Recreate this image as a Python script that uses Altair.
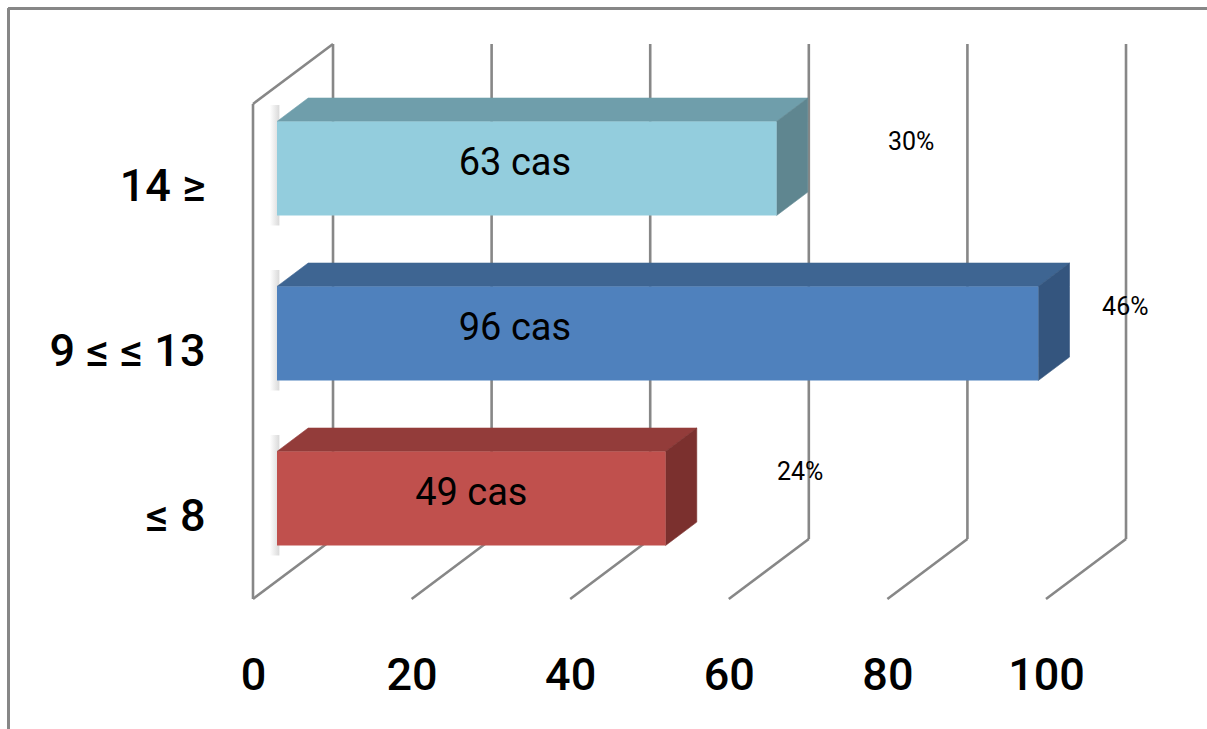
import altair as alt
import pandas as pd

# ---- data ----
categories = ["≤ 8", "9 ≤ ≤ 13", "14 ≥"]
cases = [49, 96, 63]
case_labels = ["49 cas", "96 cas", "63 cas"]
percents = ["24%", "46%", "30%"]
front_colors = ["#C0504D", "#4F81BD", "#93CDDD"]
top_colors = ["#933C3A", "#3E6592", "#6F9EAB"]
side_colors = ["#7B302E", "#34557E", "#5F8690"]
x_ticks = [0, 20, 40, 60, 80, 100]

# ---- 3D geometry (in scale units) ----
DX, DY = 10.09, 0.364   # full depth of the 3D box
F0, F1 = 0.30, 0.69     # depth span occupied by the bars
H = 0.57                # bar thickness
NCAT = len(categories)
GRAY = "#878787"
FONT = "Roboto"

ddx, ddy = (F1 - F0) * DX, (F1 - F0) * DY

front_rows, top_rows, side_rows, label_rows, shadow_rows = [], [], [], [], []
for i, v in enumerate(cases):
    c = i + 0.5
    yb = c - H / 2 + F0 * DY
    yt = c + H / 2 + F0 * DY
    x0 = F0 * DX
    xr = v + F0 * DX
    front_rows.append(dict(cat=categories[i], x=x0, x2=xr, y=yb, y2=yt, col=front_colors[i]))
    shadow_rows.append(dict(cat=categories[i], x=x0 - 0.9, x2=x0 + 0.3, y=yb - 0.06, y2=yt + 0.1))
    for (px, py, py2) in [(x0, yt, yt), (x0 + ddx, yt, yt + ddy),
                          (xr, yt, yt + ddy), (xr + ddx, yt + ddy, yt + ddy)]:
        top_rows.append(dict(cat=categories[i], x=px, y=py, y2=py2, col=top_colors[i]))
    for (py, px, px2) in [(yb, xr, xr), (yb + ddy, xr, xr + ddx),
                          (yt, xr, xr + ddx), (yt + ddy, xr + ddx, xr + ddx)]:
        side_rows.append(dict(cat=categories[i], y=py, x=px, x2=px2, col=side_colors[i]))
    label_rows.append(dict(cat=categories[i], v=v, c=c, lab=case_labels[i], pct=percents[i]))

front_df = pd.DataFrame(front_rows)
top_df = pd.DataFrame(top_rows)
side_df = pd.DataFrame(side_rows)
label_df = pd.DataFrame(label_rows)
shadow_df = pd.DataFrame(shadow_rows)

grid_df = pd.DataFrame({"t": x_ticks})
grid_df["tb"] = grid_df["t"] + DX
grid_df["z"] = 0.0
grid_df["dy"] = DY
grid_df["dy2"] = NCAT + DY
wall_df = pd.DataFrame([
    dict(x=0, x2=0, y=0, y2=NCAT),
    dict(x=0, x2=DX, y=NCAT, y2=NCAT + DY),
])

xscale = alt.Scale(domain=[0, 100], nice=False, zero=False)
yscale = alt.Scale(domain=[0, NCAT], nice=False, zero=False)

label_expr = " : ".join(
    f"datum.value < {i + 1} ? '{categories[i]}'" for i in range(NCAT - 1)
) + f" : '{categories[-1]}'"

x_axis = alt.Axis(values=x_ticks, labelFontSize=45, labelFont=FONT, labelFontWeight=500,
                  labelColor="black", domain=False, ticks=False, tickSize=0, grid=False,
                  labelPadding=90, labelBaseline="alphabetic", labelFlush=False,
                  labelOverlap=False, title=None)
y_axis = alt.Axis(values=[i + 0.5 for i in range(NCAT)], labelExpr=label_expr,
                  labelFontSize=45, labelFont=FONT, labelFontWeight=500, labelColor="black",
                  domain=False, ticks=False, tickSize=0, grid=False, labelPadding=48,
                  labelBaseline="middle", labelAlign="right", labelOverlap=False,
                  title=None)


def X(field, **kw):
    return alt.X(field, scale=xscale, axis=x_axis, **kw)


def Y(field, **kw):
    return alt.Y(field, scale=yscale, axis=y_axis, **kw)


back_lines = alt.Chart(grid_df).mark_rule(color=GRAY, strokeWidth=2.6).encode(
    x=X("tb:Q"), y=Y("dy:Q"), y2="dy2:Q",
)

floor_lines = alt.Chart(grid_df).mark_rule(color=GRAY, strokeWidth=2.6).encode(
    x=X("t:Q"), x2="tb:Q", y=Y("z:Q"), y2="dy:Q",
)

wall_lines = alt.Chart(wall_df).mark_rule(color=GRAY, strokeWidth=2.6).encode(
    x=X("x:Q"), x2="x2:Q", y=Y("y:Q"), y2="y2:Q",
)

shadow = alt.Chart(shadow_df).mark_rect(
    color=alt.Gradient(gradient="linear",
                       stops=[alt.GradientStop(color="#ffffff", offset=0),
                              alt.GradientStop(color="#d9d9d9", offset=1)],
                       x1=0, x2=1, y1=0, y2=0),
).encode(
    x=X("x:Q"), x2="x2:Q", y=Y("y:Q"), y2="y2:Q",
)

top_faces = alt.Chart(top_df).mark_area(orient="vertical", strokeWidth=0.6).encode(
    x=X("x:Q"),
    y=Y("y:Q", stack=None),
    y2="y2:Q",
    color=alt.Color("col:N", scale=None),
    stroke=alt.Stroke("col:N", scale=None),
    detail="cat:N",
)

side_faces = alt.Chart(side_df).mark_area(orient="horizontal", strokeWidth=0.6).encode(
    y=Y("y:Q"),
    x=X("x:Q", stack=None),
    x2="x2:Q",
    color=alt.Color("col:N", scale=None),
    stroke=alt.Stroke("col:N", scale=None),
    detail="cat:N",
)

front_faces = alt.Chart(front_df).mark_rect().encode(
    x=X("x:Q"), x2="x2:Q", y=Y("y:Q"), y2="y2:Q",
    color=alt.Color("col:N", scale=None),
)

case_text = alt.Chart(label_df).mark_text(
    font=FONT, fontSize=38, color="black", align="center", baseline="middle"
).encode(
    x=X("lx:Q"), y=Y("ly:Q"), text="lab:N",
).transform_calculate(
    lx=f"min(datum.v / 2, 30) + {F0 * DX}",
    ly=f"datum.c + {F0 * DY} + 0.03",
)

pct_text = alt.Chart(label_df).mark_text(
    font=FONT, fontSize=25, color="black", align="center", baseline="middle"
).encode(
    x=X("px:Q"), y=Y("py:Q"), text="pct:N",
).transform_calculate(
    px="min(datum.v + 20, 110)",
    py="datum.c + 0.27",
)

frame_left = alt.Chart(grid_df).mark_rule(color=GRAY, strokeWidth=2.5).encode(
    x=alt.value(-244.5), y=alt.value(-95.5), y2=alt.value(640)
)
frame_top = alt.Chart(grid_df).mark_rule(color=GRAY, strokeWidth=2.5).encode(
    x=alt.value(-244.5), x2=alt.value(970), y=alt.value(-95.5)
)

chart = alt.layer(
    back_lines, floor_lines, wall_lines, shadow, top_faces, side_faces, front_faces,
    case_text, pct_text, frame_left, frame_top,
).properties(
    width=793, height=495,
    padding={"left": 253, "top": 104, "right": 161, "bottom": 130},
    autosize=alt.AutoSizeParams(type="none"),
    background="white",
).configure_view(stroke=None)

chart.save("out.html", embed_options={"renderer": "svg", "actions": False})
